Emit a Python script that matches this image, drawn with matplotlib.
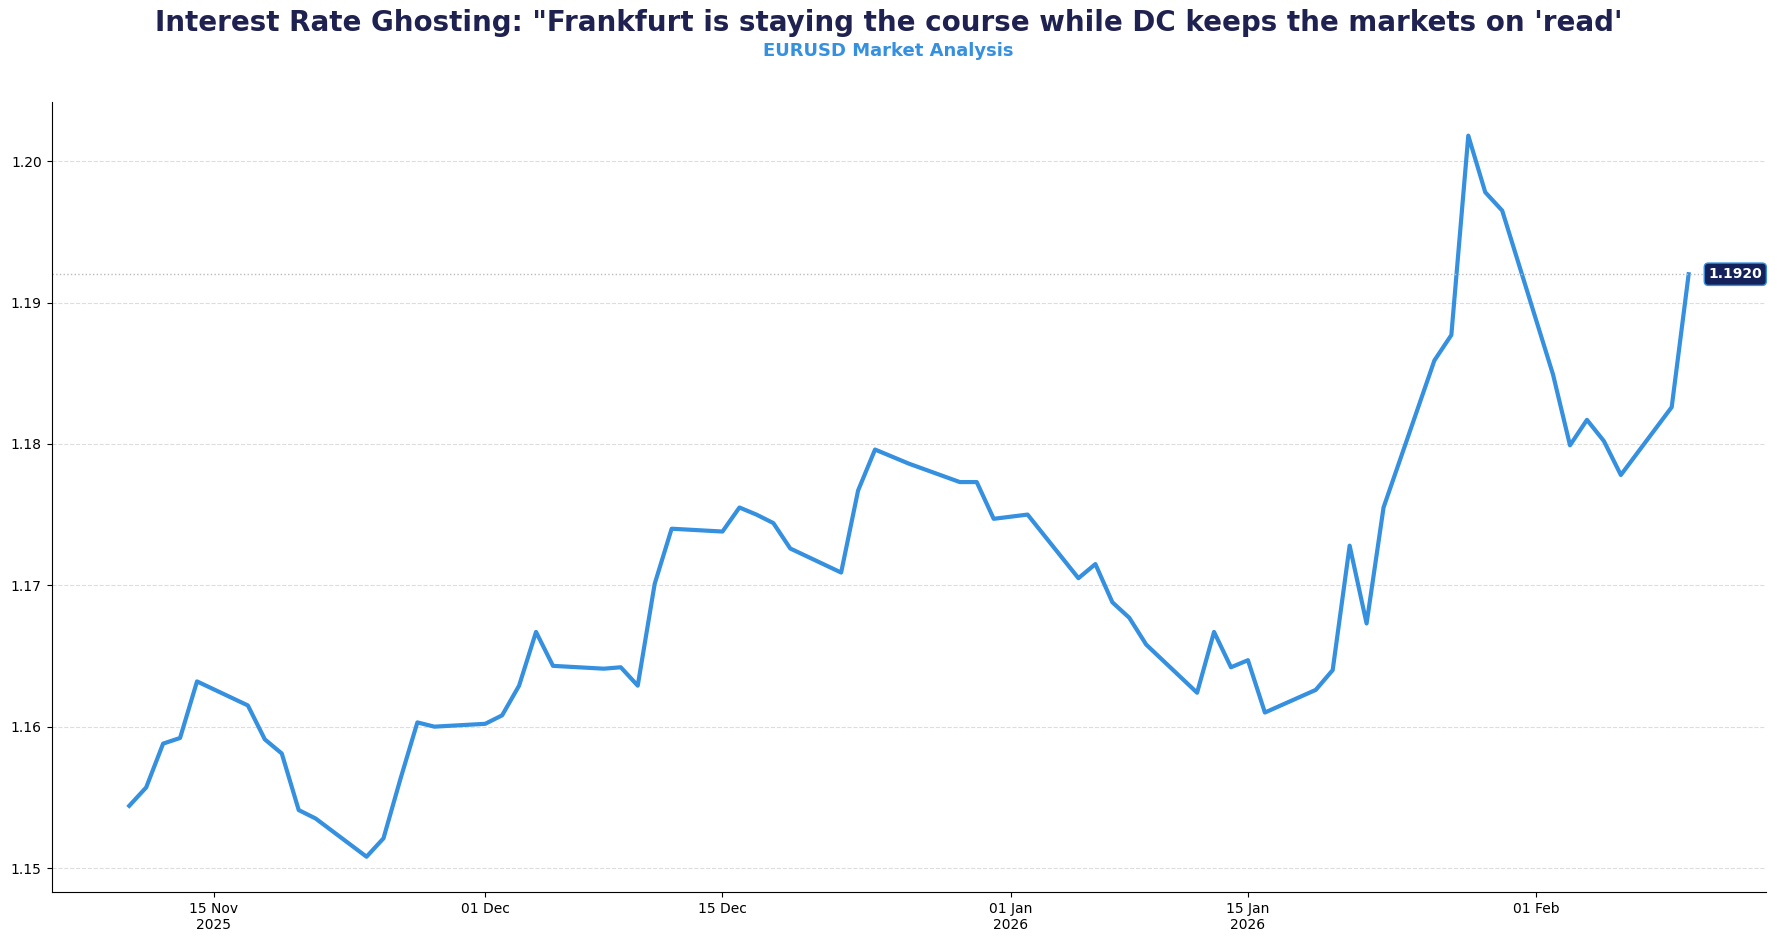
import matplotlib.pyplot as plt
import matplotlib.dates as mdates
import pandas as pd

dates = [
    "2025-11-10", "2025-11-11", "2025-11-12", "2025-11-13", "2025-11-14",
    "2025-11-17", "2025-11-18", "2025-11-19", "2025-11-20", "2025-11-21",
    "2025-11-24", "2025-11-25", "2025-11-26", "2025-11-27", "2025-11-28",
    "2025-12-01", "2025-12-02", "2025-12-03", "2025-12-04", "2025-12-05",
    "2025-12-08", "2025-12-09", "2025-12-10", "2025-12-11", "2025-12-12",
    "2025-12-15", "2025-12-16", "2025-12-17", "2025-12-18", "2025-12-19",
    "2025-12-22", "2025-12-23", "2025-12-24", "2025-12-26",
    "2025-12-29", "2025-12-30", "2025-12-31", "2026-01-02",
    "2026-01-05", "2026-01-06", "2026-01-07", "2026-01-08", "2026-01-09",
    "2026-01-12", "2026-01-13", "2026-01-14", "2026-01-15", "2026-01-16",
    "2026-01-19", "2026-01-20", "2026-01-21", "2026-01-22", "2026-01-23",
    "2026-01-26", "2026-01-27", "2026-01-28", "2026-01-29", "2026-01-30",
    "2026-02-02", "2026-02-03", "2026-02-04", "2026-02-05", "2026-02-06",
    "2026-02-09", "2026-02-10",
]
close = [
    1.1544, 1.1557, 1.1588, 1.1592, 1.1632,
    1.1615, 1.1591, 1.1581, 1.1541, 1.1535,
    1.1508, 1.1521, 1.1563, 1.1603, 1.1600,
    1.1602, 1.1608, 1.1629, 1.1667, 1.1643,
    1.1641, 1.1642, 1.1629, 1.1701, 1.1740,
    1.1738, 1.1755, 1.1750, 1.1744, 1.1726,
    1.1709, 1.1767, 1.1796, 1.1786,
    1.1773, 1.1773, 1.1747, 1.1750,
    1.1705, 1.1715, 1.1688, 1.1677, 1.1658,
    1.1624, 1.1667, 1.1642, 1.1647, 1.1610,
    1.1626, 1.1640, 1.1728, 1.1673, 1.1755,
    1.1859, 1.1877, 1.2018, 1.1978, 1.1965,
    1.1849, 1.1799, 1.1817, 1.1802, 1.1778,
    1.1826, 1.1920,
]

tick_dates = ["2025-11-15", "2025-12-01", "2025-12-15", "2026-01-01", "2026-01-15", "2026-02-01"]
tick_labels = ["15 Nov\n2025", "01 Dec", "15 Dec", "01 Jan\n2026", "15 Jan\n2026", "01 Feb"]

x = pd.to_datetime(dates)
line_color = "#3590e0"
navy = "#1f2150"

fig = plt.figure(figsize=(17.77, 9.42), dpi=100)
ax = fig.add_axes([0.029, 0.053, 0.965, 0.839])

ax.plot(x, close, color=line_color, linewidth=3)
last = close[-1]
ax.axhline(last, color="#bbbbbb", linestyle=":", linewidth=1)
ax.annotate(f"{last:.4f}", xy=(1.0, last), xycoords=("axes fraction", "data"),
            xytext=(-3, 0), textcoords="offset points",
            ha="right", va="center", fontsize=10, fontweight="bold", color="white",
            bbox=dict(boxstyle="round,pad=0.3", facecolor="#14215a", edgecolor=line_color))

ax.set_xlim(pd.Timestamp("2025-11-05 10:00"), pd.Timestamp("2026-02-14 14:00"))
ax.set_ylim(1.1483, 1.2042)
ax.set_xticks(pd.to_datetime(tick_dates))
ax.set_xticklabels(tick_labels, fontsize=10)
ax.set_yticks([1.15, 1.16, 1.17, 1.18, 1.19, 1.20])
ax.set_yticklabels(["1.15", "1.16", "1.17", "1.18", "1.19", "1.20"], fontsize=10)
ax.grid(axis="y", linestyle="--", color="#dddddd", linewidth=0.8)
ax.spines["top"].set_visible(False)
ax.spines["right"].set_visible(False)

fig.text(0.5, 0.976, "Interest Rate Ghosting: \"Frankfurt is staying the course while DC keeps the markets on 'read'",
         ha="center", va="center", fontsize=20, fontweight="bold", color=navy)
fig.text(0.5, 0.946, "EURUSD Market Analysis", ha="center", va="center",
         fontsize=13, fontweight="bold", color=line_color)

fig.savefig("out.png", dpi=100)
